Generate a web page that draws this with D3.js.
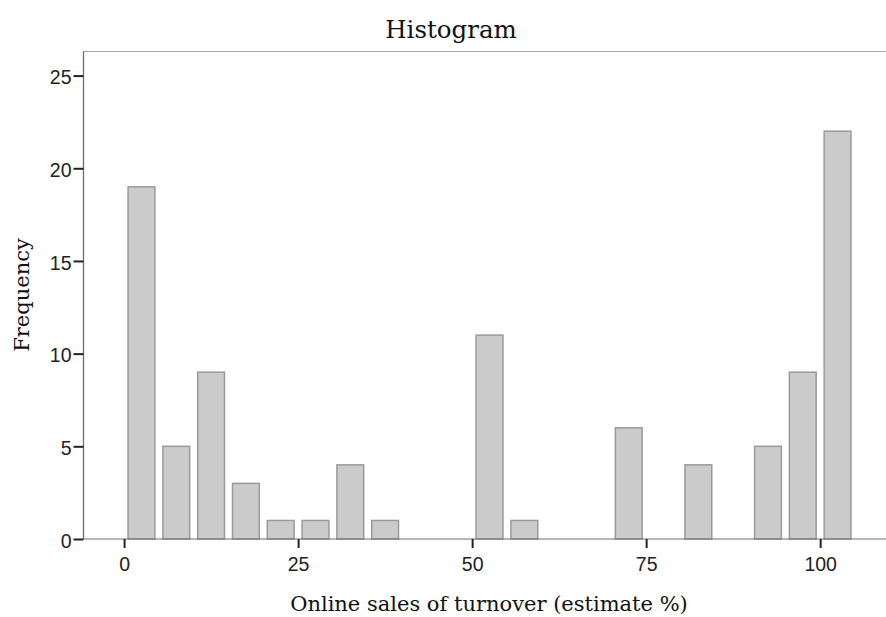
<!DOCTYPE html>
<html>
<head>
<meta charset="utf-8">
<script src="https://cdn.jsdelivr.net/npm/d3@7"></script>
<style>
  body { margin: 0; background: #fff; }
  svg { display: block; }
</style>
</head>
<body>
<svg id="chart"></svg>
<script>
// Histogram bins (5 % wide) and counts
const binStarts = [0, 5, 10, 15, 20, 25, 30, 35, 40, 45, 50, 55, 60, 65, 70, 75, 80, 85, 90, 95, 100];
const counts = [19, 5, 9, 3, 1, 1, 4, 1, 0, 0, 11, 1, 0, 0, 6, 0, 4, 0, 5, 9, 22];
const binWidth = 5;
const xTicks = [0, 25, 50, 75, 100];
const yTicks = [0, 5, 10, 15, 20, 25];

const width = 886;
const height = 617;
const marginTop = 51.5;
const marginLeft = 83.5;
const marginBottom = 78; // axis sits at y = 539
const marginRight = -1; // frame runs past the right edge

const xScale = d3.scaleLinear()
  .domain([-5.83, 109.6])
  .range([marginLeft, width - marginRight]);
const yScale = d3.scaleLinear()
  .domain([0, 26.3])
  .range([height - marginBottom, marginTop]);

const svg = d3.select('#chart')
  .attr('width', width)
  .attr('height', height)
  .attr('viewBox', [0, 0, width, height]);

const serif = '"DejaVu Serif", serif';
const sans = '"Liberation Sans", Arial, sans-serif';

// Frame (top + left), light grey
svg.append('path')
  .attr('d', `M${marginLeft},${height - marginBottom}V${marginTop}H${width - marginRight}`)
  .attr('fill', 'none')
  .attr('stroke', '#a8a8a8')
  .attr('stroke-width', 1.2);

// Bars
const data = binStarts.map((s, i) => ({x0: s, x1: s + binWidth, n: counts[i]}));
const inset = 4;
svg.append('g')
  .selectAll('rect')
  .data(data.filter(d => d.n > 0))
  .join('rect')
    .attr('x', d => xScale(d.x0) + inset)
    .attr('y', d => yScale(d.n))
    .attr('width', d => xScale(d.x1) - xScale(d.x0) - 2 * inset)
    .attr('height', d => yScale(0) - yScale(d.n))
    .attr('fill', '#cbcbcb')
    .attr('stroke', '#9a9a9a')
    .attr('stroke-width', 1.5);

// X axis
svg.append('g')
  .attr('transform', `translate(0,${height - marginBottom})`)
  .call(d3.axisBottom(xScale).tickValues(xTicks).tickSize(9).tickSizeOuter(0).tickPadding(9))
  .call(g => g.select('.domain').attr('stroke', '#6e6e6e').attr('stroke-width', 1.2)
    .attr('d', `M${marginLeft},0H${width - marginRight}`))
  .call(g => g.selectAll('.tick line').attr('stroke', '#222').attr('stroke-width', 2))
  .call(g => g.selectAll('.tick text')
    .attr('fill', '#222')
    .attr('font-family', sans)
    .attr('font-size', 19.5));

// Y axis
svg.append('g')
  .attr('transform', `translate(${marginLeft},0)`)
  .call(d3.axisLeft(yScale).tickValues(yTicks).tickSize(10).tickSizeOuter(0).tickPadding(2))
  .call(g => g.select('.domain').attr('stroke', '#6e6e6e').attr('stroke-width', 1.2)
    .attr('d', `M0,${height - marginBottom}V${marginTop}`))
  .call(g => g.selectAll('.tick line').attr('stroke', '#222').attr('stroke-width', 2))
  .call(g => g.selectAll('.tick text')
    .attr('fill', '#222')
    .attr('dy', '0.42em')
    .attr('font-family', sans)
    .attr('font-size', 19.5));

// Title
svg.append('text')
  .text('Histogram')
  .attr('x', 451)
  .attr('y', 38)
  .attr('text-anchor', 'middle')
  .attr('font-family', serif)
  .attr('font-size', 24.5)
  .attr('fill', '#111');

// Axis titles
svg.append('text')
  .text('Online sales of turnover (estimate %)')
  .attr('x', 489)
  .attr('y', 611)
  .attr('text-anchor', 'middle')
  .attr('font-family', serif)
  .attr('font-size', 21)
  .attr('fill', '#111');

svg.append('text')
  .text('Frequency')
  .attr('transform', `translate(29,295) rotate(-90)`)
  .attr('text-anchor', 'middle')
  .attr('font-family', serif)
  .attr('font-size', 21)
  .attr('fill', '#111');
</script>
</body>
</html>
